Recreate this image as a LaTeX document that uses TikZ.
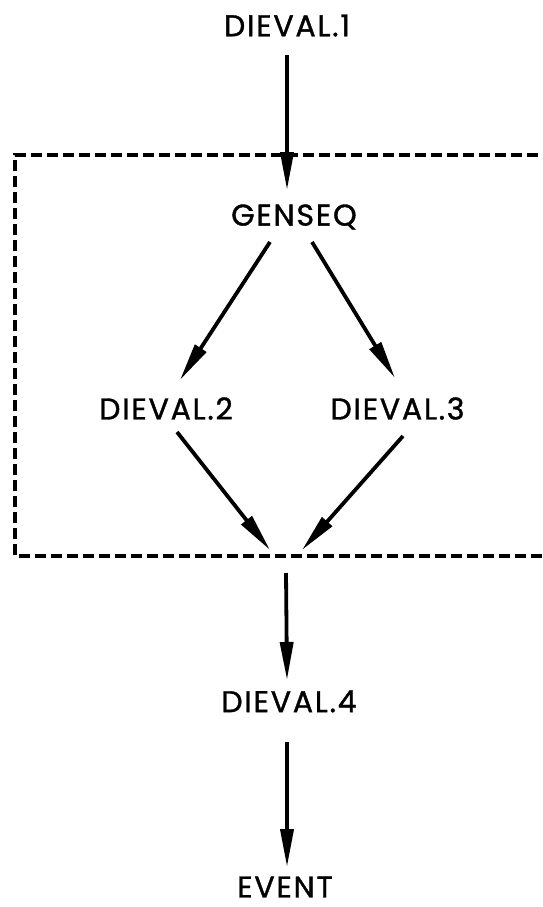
\documentclass[tikz,border=0pt]{standalone}
\usepackage{fontspec}
\newfontfamily\lblfont{Poppins}[FakeBold=1.2, LetterSpace=6]
\usetikzlibrary{arrows.meta}
\tikzset{
  lbl/.style={inner sep=0pt, font=\lblfont\fontsize{30}{33}\selectfont},
  arr/.style={line width=3.8pt, -{Triangle[length=38pt,width=13pt]}},
  dbox/.style={line width=3.8pt, dash pattern=on 11pt off 5pt}
}
\begin{document}
\begin{tikzpicture}[x=1pt,y=-1pt]
\clip (0,0) rectangle (543,907);
\fill[white] (0,0) rectangle (543,907);
\node[lbl] (d1) at (287,25.5) {DIEVAL.1};
\node[lbl] (gen) at (294,217) {GENSEQ};
\node[lbl] (d2) at (166,408.5) {DIEVAL.2};
\node[lbl] (d3) at (397.5,408.5) {DIEVAL.3};
\node[lbl] (d4) at (289,701.5) {DIEVAL.4};
\node[lbl] (ev) at (285,887) {EVENT};
\coordinate (join) at (287,556);
\draw[dbox] (570,155) -- (15,155) -- (15,556) -- (570,556);
\draw[arr] ([shift={(0,29.5)}]d1.center) -- ([shift={(-7,-27)}]gen.center);
\draw[arr] ([shift={(-24,25)}]gen.center) -- ([shift={(14,-28.5)}]d2.center);
\draw[arr] ([shift={(18,25)}]gen.center) -- ([shift={(-2.5,-30.5)}]d3.center);
\draw[arr] ([shift={(11,23.5)}]d2.center) -- ([shift={(-17,-6)}]join);
\draw[arr] ([shift={(5.5,27.5)}]d3.center) -- ([shift={(15,-6)}]join);
\draw[arr] ([shift={(-1,17)}]join) -- ([shift={(-2,-21.5)}]d4.center);
\draw[arr] ([shift={(-2,40.5)}]d4.center) -- ([shift={(2,-20)}]ev.center);
\end{tikzpicture}
\end{document}
